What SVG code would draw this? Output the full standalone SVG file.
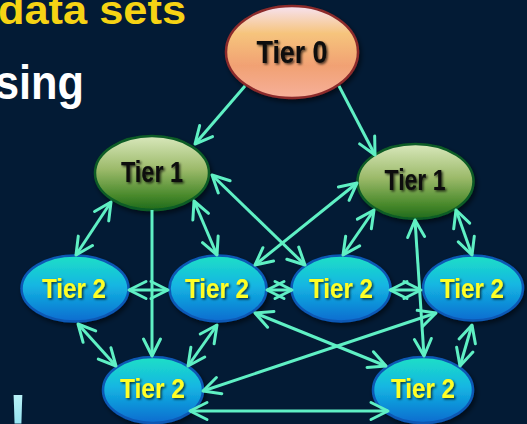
<svg xmlns="http://www.w3.org/2000/svg" width="527" height="424" viewBox="0 0 527 424">
  <defs>
    <style>
      .c { fill: none; stroke: #5ff0c4; stroke-width: 3; }
      .c1 { marker-end: url(#ah); }
      .c2 { marker-start: url(#ah); marker-end: url(#ah); }
      .lbl { font-family: "Liberation Sans", Arial, sans-serif; font-weight: bold; text-anchor: middle; filter: url(#tsh); }
      .dark { fill: #0a0a0a; }
      .yel { fill: #ffff26; }
      .t0 { fill: url(#g0); stroke: #8c2c2c; stroke-width: 2.5; }
      .t1 { fill: url(#g1); stroke: #0c5c26; stroke-width: 2.5; }
      .t2 { fill: url(#g2); stroke: #0a58b4; stroke-width: 2.5; }
      .head { font-family: "Liberation Sans", Arial, sans-serif; font-weight: bold; }
    </style>
    <linearGradient id="g0" x1="0" y1="0" x2="0" y2="1">
      <stop offset="0" stop-color="#f7e2f2"/>
      <stop offset="0.3" stop-color="#f6c47c"/>
      <stop offset="0.65" stop-color="#f1a173"/>
      <stop offset="1" stop-color="#f6b09a"/>
    </linearGradient>
    <linearGradient id="g1" x1="0" y1="0" x2="0" y2="1">
      <stop offset="0" stop-color="#d9e8bc"/>
      <stop offset="0.45" stop-color="#9cba6a"/>
      <stop offset="0.8" stop-color="#4a8a2c"/>
      <stop offset="1" stop-color="#1f6a1c"/>
    </linearGradient>
    <linearGradient id="g2" x1="0" y1="0" x2="0" y2="1">
      <stop offset="0" stop-color="#1ee0c6"/>
      <stop offset="0.45" stop-color="#14b6e2"/>
      <stop offset="1" stop-color="#0a6cd0"/>
    </linearGradient>
    <linearGradient id="gx" x1="0" y1="0" x2="0" y2="1">
      <stop offset="0" stop-color="#c8f8fa"/>
      <stop offset="1" stop-color="#78d8ec"/>
    </linearGradient>
    <filter id="tsh" x="-20%" y="-30%" width="140%" height="160%">
      <feDropShadow dx="1.5" dy="1.5" stdDeviation="1" flood-color="#000" flood-opacity="0.7"/>
    </filter>
    <filter id="nsh" x="-20%" y="-20%" width="140%" height="150%">
      <feDropShadow dx="2" dy="3" stdDeviation="2.5" flood-color="#000" flood-opacity="0.55"/>
    </filter>
    <marker id="ah" markerUnits="userSpaceOnUse" orient="auto-start-reverse" refX="0" refY="0" markerWidth="20" markerHeight="20" style="overflow:visible">
      <path d="M-17,-8.5 L0,0 L-17,8.5" fill="none" stroke="#5ff0c4" stroke-width="3" stroke-linejoin="round" stroke-linecap="round"/>
    </marker>
  </defs>

  <rect width="527" height="424" fill="#031b35"/>

  <!-- slide text behind the diagram -->
  <text class="head" x="-2" y="24" font-size="40" fill="#f6d314" textLength="188" lengthAdjust="spacingAndGlyphs">data sets</text>
  <text class="head" x="-5" y="99" font-size="49" fill="#ffffff" textLength="89" lengthAdjust="spacingAndGlyphs">sing</text>
  <text class="head" x="18" y="436" font-size="60" fill="url(#gx)" text-anchor="middle">!</text>

  <!-- nodes -->
  <g id="tier0">
    <ellipse class="t0" cx="292" cy="52" rx="66" ry="46" filter="url(#nsh)"/>
    <text class="lbl dark" x="292" y="63" font-size="31" textLength="71" lengthAdjust="spacingAndGlyphs">Tier 0</text>
  </g>
  <g id="tier1-left">
    <ellipse class="t1" cx="152" cy="173" rx="57" ry="37" filter="url(#nsh)"/>
    <text class="lbl dark" x="152" y="182" font-size="29" textLength="62" lengthAdjust="spacingAndGlyphs">Tier 1</text>
  </g>
  <g id="tier1-right">
    <ellipse class="t1" cx="415.5" cy="181.5" rx="58" ry="37.5" filter="url(#nsh)"/>
    <text class="lbl dark" x="415" y="190" font-size="29" textLength="61" lengthAdjust="spacingAndGlyphs">Tier 1</text>
  </g>
  <g id="tier2-a">
    <ellipse class="t2" cx="75" cy="288.5" rx="53.5" ry="33" filter="url(#nsh)"/>
    <text class="lbl yel" x="74" y="297.5" font-size="28" textLength="64" lengthAdjust="spacingAndGlyphs">Tier 2</text>
  </g>
  <g id="tier2-b">
    <ellipse class="t2" cx="218" cy="288.5" rx="48.5" ry="33" filter="url(#nsh)"/>
    <text class="lbl yel" x="217" y="297.5" font-size="28" textLength="64" lengthAdjust="spacingAndGlyphs">Tier 2</text>
  </g>
  <g id="tier2-c">
    <ellipse class="t2" cx="341" cy="288.5" rx="49.5" ry="33" filter="url(#nsh)"/>
    <text class="lbl yel" x="341" y="297.5" font-size="28" textLength="64" lengthAdjust="spacingAndGlyphs">Tier 2</text>
  </g>
  <g id="tier2-d">
    <ellipse class="t2" cx="473" cy="288" rx="50" ry="32.5" filter="url(#nsh)"/>
    <text class="lbl yel" x="472" y="297.5" font-size="28" textLength="64" lengthAdjust="spacingAndGlyphs">Tier 2</text>
  </g>
  <g id="tier2-e">
    <ellipse class="t2" cx="153" cy="390" rx="50" ry="33" filter="url(#nsh)"/>
    <text class="lbl yel" x="152.5" y="397.5" font-size="28" textLength="65" lengthAdjust="spacingAndGlyphs">Tier 2</text>
  </g>
  <g id="tier2-f">
    <ellipse class="t2" cx="423" cy="390" rx="50" ry="33" filter="url(#nsh)"/>
    <text class="lbl yel" x="423" y="397.5" font-size="28" textLength="64" lengthAdjust="spacingAndGlyphs">Tier 2</text>
  </g>

  <!-- connectors -->
  <g id="connectors">
    <path class="c c1" d="M245,86 L195,144"/>
    <path class="c c1" d="M339,86 L375,155"/>
    <path class="c c2" d="M111,202 L76,255"/>
    <path class="c c1" d="M152,210 L152,356"/>
    <path class="c c2" d="M194,201 L217,255"/>
    <path class="c c2" d="M212,175 L305,265"/>
    <path class="c c2" d="M357,183 L255,265"/>
    <path class="c c2" d="M374,210 L343,255"/>
    <path class="c c2" d="M415,220 L424,356"/>
    <path class="c c2" d="M456,210 L472,255"/>
    <path class="c c2" d="M129,290 L168,290"/>
    <path class="c c2" d="M267,290 L292,290"/>
    <path class="c c2" d="M390,290 L421,290"/>
    <path class="c c2" d="M78,324 L116,366"/>
    <path class="c c2" d="M217,325 L188,366"/>
    <path class="c c2" d="M255,313 L386,366"/>
    <path class="c c2" d="M436,313 L203,391"/>
    <path class="c c2" d="M472,325 L460,366"/>
    <path class="c c2" d="M190,411 L388,411"/>
  </g>
</svg>
